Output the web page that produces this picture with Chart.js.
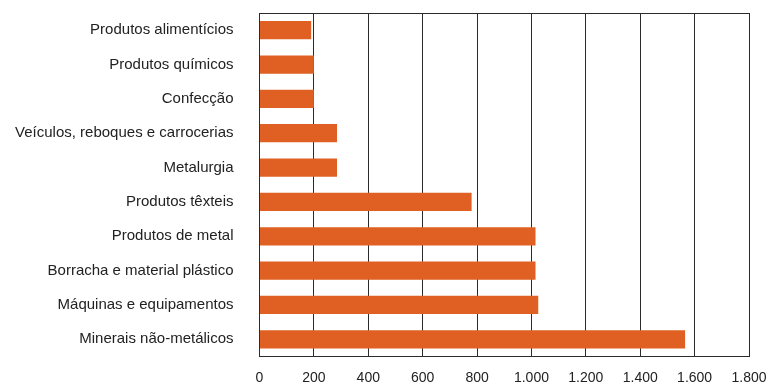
<!DOCTYPE html>
<html>
<head>
<meta charset="utf-8">
<script src="https://cdn.jsdelivr.net/npm/chart.js@4/dist/chart.umd.min.js"></script>
<style>
  html, body { margin: 0; padding: 0; background: #fff; }
  #wrap { width: 769px; height: 384px; }
</style>
</head>
<body>
<div id="wrap"><canvas id="c" width="769" height="384"></canvas></div>
<script>
// Setores industriais (de cima para baixo)
const categories = [
  'Produtos alimentícios',
  'Produtos químicos',
  'Confecção',
  'Veículos, reboques e carrocerias',
  'Metalurgia',
  'Produtos têxteis',
  'Produtos de metal',
  'Borracha e material plástico',
  'Máquinas e equipamentos',
  'Minerais não-metálicos'
];
const values = [190, 200, 200, 285, 285, 780, 1015, 1015, 1025, 1565];
const xTicks = [0, 200, 400, 600, 800, 1000, 1200, 1400, 1600, 1800];

const FONT = '"Liberation Sans", Arial, Helvetica, sans-serif';
const LINE = '#2b2b2b';

// Formata números com ponto como separador de milhar
function fmt(v) {
  return String(v).replace(/\B(?=(\d{3})+(?!\d))/g, '.');
}

// Sem folga automática das escalas: a área de plotagem é dada pelo layout
function noPad(scale) {
  scale.paddingLeft = 0;
  scale.paddingRight = 0;
  scale.paddingTop = 0;
  scale.paddingBottom = 0;
}

// Linha superior da moldura da área de plotagem
const frame = {
  id: 'frame',
  afterDraw(chart) {
    const a = chart.chartArea, ctx = chart.ctx;
    ctx.save();
    ctx.strokeStyle = LINE;
    ctx.lineWidth = 1;
    ctx.beginPath();
    ctx.moveTo(a.left, a.top + 0.5);
    ctx.lineTo(a.right, a.top + 0.5);
    ctx.stroke();
    ctx.restore();
  }
};

new Chart(document.getElementById('c'), {
  type: 'bar',
  data: {
    labels: categories,
    datasets: [{
      data: values,
      backgroundColor: '#DF6022',
      borderWidth: 0,
      barPercentage: 0.53,
      categoryPercentage: 1.0
    }]
  },
  options: {
    indexAxis: 'y',
    responsive: false,
    animation: false,
    layout: { padding: { top: 13, right: 20, bottom: 0, left: 0 } },
    plugins: { legend: { display: false }, tooltip: { enabled: false } },
    scales: {
      x: {
        min: 0,
        max: 1800,
        afterBuildTicks(scale) { scale.ticks = xTicks.map(v => ({ value: v })); },
        afterFit(scale) { scale.height = 27.5; noPad(scale); },
        grid: { color: LINE, lineWidth: 1, drawTicks: false },
        border: { display: true, color: LINE, width: 1 },
        ticks: {
          padding: 13,
          color: '#222',
          font: { family: FONT, size: 14 },
          maxRotation: 0,
          callback: v => fmt(v)
        }
      },
      y: {
        afterFit(scale) { scale.width = 259.5; noPad(scale); },
        grid: { display: false, drawTicks: false },
        border: { display: true, color: LINE, width: 1 },
        ticks: {
          padding: 26,
          color: '#222',
          font: { family: FONT, size: 15 }
        }
      }
    }
  },
  plugins: [frame]
});
</script>
</body>
</html>
